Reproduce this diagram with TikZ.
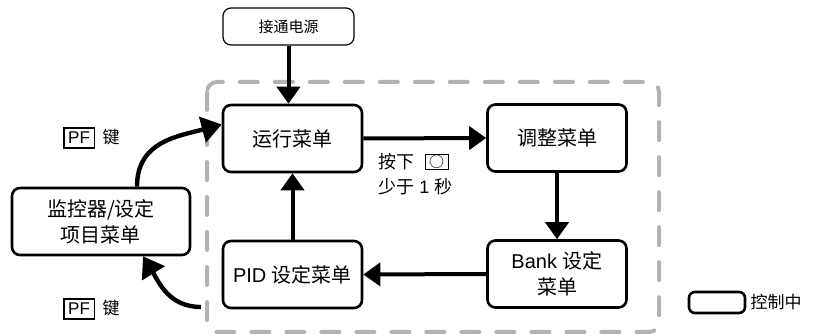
\documentclass[tikz,border=0pt]{standalone}
\usepackage{fontspec}
\setmainfont{Liberation Sans}
\newfontfamily\cjk{Noto Sans CJK SC}
\usetikzlibrary{arrows.meta,positioning}
\setlength\fboxsep{1.8pt}
\setlength\fboxrule{0.6pt}

\begin{document}
\begin{tikzpicture}[x=0.5pt,y=-0.5pt,
    menu/.style={draw,line width=1.3pt,rounded corners=4pt,align=center,inner sep=0pt,
      minimum width=69.5pt,minimum height=33.5pt,font=\fontsize{10}{13}\selectfont},
    flow/.style={line width=2pt,-{Triangle[width=11.5pt,length=8.5pt]}},
    pfflow/.style={line width=2.2pt,-{Triangle[width=13pt,length=10pt]}},
    note/.style={anchor=west,inner sep=0pt,font=\fontsize{8.5}{10}\selectfont}]
  \useasboundingbox (0,0) rectangle (814,336);
  \draw[gray!60,line width=2pt,line cap=round,dash pattern=on 9pt off 8.5pt,rounded corners=5pt] (207,82) rectangle (659,332);

  \node[draw,line width=0.6pt,rounded corners=4pt,inner sep=0pt,minimum width=65.5pt,minimum height=18.5pt,font=\cjk\fontsize{7.5}{9}\selectfont] (power) at (288.5,26.5) {接通电源};
  \node[menu] (run) at (292.5,138.5) {{\cjk 运行菜单}};
  \node[menu] (adjust) at (557,138) {{\cjk 调整菜单}};
  \node[menu] (bank) at (557,274) {Bank {\cjk 设定}\\{\cjk 菜单}};
  \node[menu] (pid) at (292.5,274.5) {PID {\cjk 设定菜单}};
  \node[menu,minimum width=89pt] (monitor) at (101,221.5) {{\cjk 监控器/设定}\\{\cjk 项目菜单}};

  \draw[flow] (power.south) -- (power.south |- run.north);
  \draw[flow] (run.east) -- (adjust.west);
  \draw[flow] (adjust.south) -- (bank.north);
  \draw[flow] (bank.west) -- (pid.east);
  \draw[flow] (pid.north) -- (run.south);

  \node[note,font=\fontsize{9}{11}\selectfont] (press) at (378,162) {\cjk 按下};
  \node[draw,line width=0.4pt,inner sep=0pt,minimum width=11.5pt,minimum height=7.5pt,right=5pt of press,font=\cjk\fontsize{7.5}{8}\selectfont] (okkey) {○};
  \node[note,font=\fontsize{9}{11}\selectfont] (press2) at (378,187) {{\cjk 少于} 1 {\cjk 秒}};

  \draw[pfflow] ([xshift=18pt]monitor.north) .. controls +(0,-45) and +(-45,12) .. ([yshift=7pt]run.west);
  \coordinate (pfgo) at (201,307);
  \draw[pfflow] (pfgo) .. controls +(-32,0) and +(16,26) .. ([xshift=21pt]monitor.south);
  \node[note] (pfup) at (63,138) {\fbox{PF}\hspace{4pt}{\cjk 键}};
  \node[note] (pfdown) at (63,309) {\fbox{PF}\hspace{4pt}{\cjk 键}};

  \node[draw,line width=1.3pt,rounded corners=3pt,inner sep=0pt,minimum width=28pt,minimum height=10.5pt] (legend) at (717,302.5) {};
  \node[note,right=2pt of legend,font=\cjk\fontsize{8.5}{10}\selectfont] (legendtext) {控制中};
\end{tikzpicture}
\end{document}
